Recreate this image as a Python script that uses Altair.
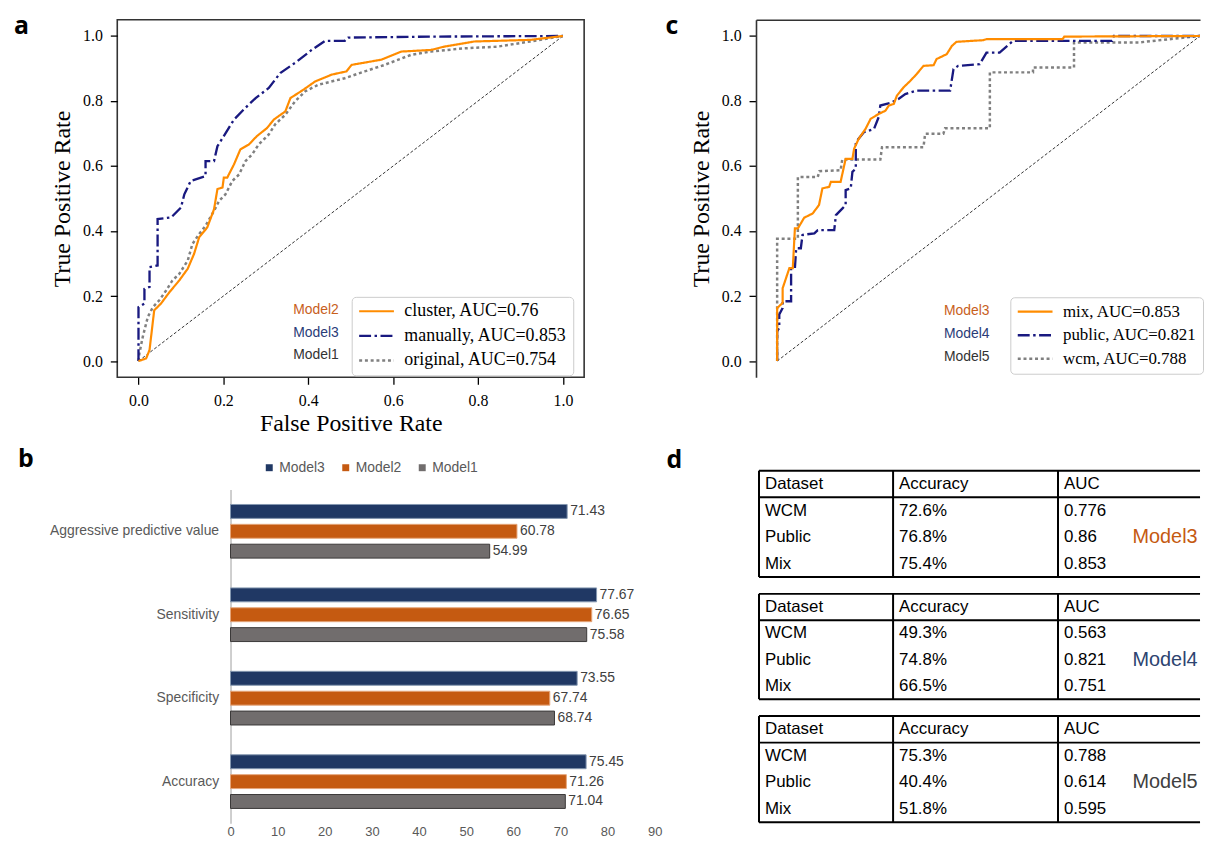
import altair as alt
import pandas as pd

SERIF = "Liberation Serif"
SANS = "Liberation Sans"
BOLD = "Open Sans"

# ---------------- panel a : ROC curves ----------------
a_names = ["cluster, AUC=0.76", "manually, AUC=0.853", "original, AUC=0.754"]
a_models = ["Model2", "Model3", "Model1"]
a_cluster_x = [0, 0.018, 0.026, 0.037, 0.053, 0.073, 0.096, 0.116, 0.131, 0.143, 0.162, 0.178,
               0.186, 0.198, 0.201, 0.209, 0.225, 0.240, 0.260, 0.279, 0.303, 0.319, 0.346, 0.358,
               0.389, 0.416, 0.455, 0.490, 0.502, 0.572, 0.619, 0.689, 0.720, 0.791, 0.923, 1.0]
a_cluster_y = [0, 0.008, 0.034, 0.156, 0.177, 0.212, 0.248, 0.284, 0.330, 0.381, 0.411, 0.467,
               0.529, 0.534, 0.564, 0.564, 0.605, 0.651, 0.666, 0.692, 0.717, 0.743, 0.768, 0.809,
               0.835, 0.860, 0.881, 0.891, 0.911, 0.927, 0.952, 0.957, 0.967, 0.983, 0.988, 1.0]
a_manual_x = [0, 0, 0.014, 0.014, 0.026, 0.026, 0.045, 0.045, 0.077, 0.10, 0.108, 0.123, 0.158,
              0.158, 0.178, 0.186, 0.201, 0.225, 0.252, 0.276, 0.307, 0.334, 0.373, 0.408, 0.44,
              0.486, 0.494, 0.69, 1.0]
a_manual_y = [0, 0.166, 0.177, 0.222, 0.228, 0.289, 0.294, 0.437, 0.442, 0.472, 0.513, 0.554, 0.569,
              0.615, 0.615, 0.661, 0.692, 0.743, 0.779, 0.809, 0.840, 0.886, 0.921, 0.957, 0.985,
              0.985, 0.995, 0.998, 1.0]
a_orig_x = [0, 0.002, 0.010, 0.022, 0.034, 0.049, 0.065, 0.080, 0.096, 0.116, 0.127, 0.143, 0.158,
            0.178, 0.190, 0.205, 0.221, 0.237, 0.252, 0.268, 0.283, 0.307, 0.322, 0.346, 0.369,
            0.393, 0.424, 0.486, 0.533, 0.580, 0.642, 0.689, 0.767, 0.845, 0.923, 1.0]
a_orig_y = [0, 0.023, 0.074, 0.136, 0.166, 0.187, 0.217, 0.248, 0.268, 0.309, 0.360, 0.391, 0.416,
            0.462, 0.493, 0.513, 0.554, 0.574, 0.615, 0.636, 0.666, 0.697, 0.728, 0.758, 0.799,
            0.830, 0.850, 0.870, 0.891, 0.911, 0.942, 0.952, 0.962, 0.967, 0.983, 1.0]

# ---------------- panel c : ROC curves ----------------
c_names = ["mix, AUC=0.853", "public, AUC=0.821", "wcm, AUC=0.788"]
c_models = ["Model3", "Model4", "Model5"]
c_mix_x = [0, 0, 0.013, 0.013, 0.021, 0.029, 0.037, 0.042, 0.049, 0.064, 0.084, 0.099, 0.107,
           0.123, 0.127, 0.150, 0.162, 0.178, 0.182, 0.193, 0.209, 0.221, 0.240, 0.256, 0.264,
           0.276, 0.283, 0.299, 0.315, 0.330, 0.346, 0.370, 0.377, 0.401, 0.413, 0.424, 0.487,
           0.495, 0.675, 0.679, 1.0]
c_mix_y = [0, 0.163, 0.179, 0.224, 0.255, 0.286, 0.286, 0.408, 0.408, 0.441, 0.454, 0.480, 0.531,
           0.536, 0.551, 0.551, 0.622, 0.622, 0.653, 0.684, 0.714, 0.745, 0.760, 0.770, 0.786,
           0.791, 0.816, 0.842, 0.862, 0.883, 0.908, 0.910, 0.929, 0.944, 0.969, 0.982, 0.987,
           0.990, 0.990, 0.998, 1.0]
c_public_x = [0, 0, 0.005, 0.005, 0.013, 0.013, 0.033, 0.033, 0.042, 0.045, 0.056, 0.060, 0.088,
              0.096, 0.135, 0.139, 0.154, 0.162, 0.162, 0.174, 0.178, 0.186, 0.186, 0.205, 0.229,
              0.240, 0.244, 0.268, 0.287, 0.303, 0.330, 0.409, 0.417, 0.428, 0.479, 0.495, 0.526,
              0.558, 0.792, 0.796, 1.0]
c_public_y = [0, 0.092, 0.102, 0.143, 0.163, 0.184, 0.184, 0.286, 0.286, 0.347, 0.347, 0.388, 0.393,
              0.403, 0.403, 0.449, 0.469, 0.480, 0.526, 0.531, 0.582, 0.592, 0.673, 0.704, 0.714,
              0.750, 0.786, 0.794, 0.806, 0.821, 0.832, 0.832, 0.898, 0.908, 0.913, 0.949, 0.949,
              0.985, 0.985, 1.0, 1.0]
c_wcm_x = [0, 0, 0.049, 0.049, 0.096, 0.100, 0.150, 0.154, 0.244, 0.248, 0.346, 0.350, 0.393,
           0.397, 0.503, 0.503, 0.605, 0.605, 0.702, 0.702, 0.855, 1.0]
c_wcm_y = [0, 0.376, 0.376, 0.566, 0.566, 0.584, 0.587, 0.620, 0.620, 0.658, 0.658, 0.699, 0.699,
           0.716, 0.716, 0.888, 0.888, 0.903, 0.903, 0.980, 0.980, 1.0]

diag_x = [0, 1]
diag_y = [0, 1]

# ---------------- panel b : bar chart ----------------
b_metrics = ["Aggressive predictive value", "Sensitivity", "Specificity", "Accuracy"]
b_models = ["Model3", "Model2", "Model1"]
b_model3 = [71.43, 77.67, 73.55, 75.45]
b_model2 = [60.78, 76.65, 67.74, 71.26]
b_model1 = [54.99, 75.58, 68.74, 71.04]
b_ticks = [0, 10, 20, 30, 40, 50, 60, 70, 80, 90]

# ---------------- panel d : tables ----------------
d_header = ["Dataset", "Accuracy", "AUC"]
d_datasets = ["WCM", "Public", "Mix"]
d_models = ["Model3", "Model4", "Model5"]
d_acc_m3 = ["72.6%", "76.8%", "75.4%"]
d_auc_m3 = ["0.776", "0.86", "0.853"]
d_acc_m4 = ["49.3%", "74.8%", "66.5%"]
d_auc_m4 = ["0.563", "0.821", "0.751"]
d_acc_m5 = ["75.3%", "40.4%", "51.8%"]
d_auc_m5 = ["0.788", "0.614", "0.595"]

# ---------------- styles ----------------
LINE_COLORS = ["#ff8c00", "#191980", "#808080"]
LINE_DASH = [[1, 0], [12, 3.5, 2.5, 3.5], [3, 2.8]]
LINE_WIDTH = [2.2, 2.5, 2.8]
A_MODEL_COLORS = ["#c8601c", "#2a3c78", "#333333"]
C_MODEL_COLORS = ["#c8601c", "#2a3c78", "#333333"]
B_COLORS = ["#203864", "#c55a11", "#716d6d"]
B_STROKES = ["#8497b0", "#e5a57a", "#3a3838"]
D_MODEL_COLORS = ["#c55a11", "#2d4470", "#404040"]
NOFRAME = alt.ViewBackground(stroke="transparent")
INDEP = dict(color="independent", strokeDash="independent", strokeWidth="independent",
             stroke="independent")


def letter_layer(letter, x, y):
    return alt.Chart(pd.DataFrame({"t": [letter]})).mark_text(
        align="left", baseline="alphabetic", font=BOLD, fontSize=25,
        fontWeight="bold", color="black"
    ).encode(x=alt.value(x), y=alt.value(y), text="t:N")


def roc_panel(names, models, model_colors, xs, ys, letter, letter_xy, xdomain, width,
              framed, legend_xy, ann_x, ann_ys, legend_font):
    rows = []
    for k in [2, 1, 0]:
        for i, (x, y) in enumerate(zip(xs[k], ys[k])):
            rows.append({"series": names[k], "fpr": x, "tpr": y, "i": i})
    df = pd.DataFrame(rows)
    xsc = alt.Scale(domain=xdomain, nice=False, zero=False)
    ysc = alt.Scale(domain=[-0.05, 1.05], nice=False, zero=False)
    ticks = [0.0, 0.2, 0.4, 0.6, 0.8, 1.0]
    common = dict(values=ticks, format=".1f", grid=False,
                  labelFont=SERIF, labelFontSize=16, labelColor="black",
                  tickColor="black", tickWidth=1.3, tickSize=7,
                  titleFont=SERIF, titleFontSize=24, titleFontWeight="normal",
                  titleColor="black", domain=not framed, domainColor="#333333",
                  domainWidth=1.6)
    xaxis = alt.Axis(title="False Positive Rate", labelPadding=8, titlePadding=4,
                     labelFlush=True, **common)
    yaxis = alt.Axis(title="True Positive Rate", labelPadding=8, titlePadding=8, **common)
    legend = alt.Legend(title=None, orient="none", legendX=legend_xy[0], legendY=legend_xy[1],
                        symbolType="stroke", symbolSize=1225, symbolStrokeWidth=2,
                        clipHeight=17, rowPadding=5.75, labelFont=SERIF,
                        labelFontSize=legend_font, labelColor="black", labelOffset=9,
                        padding=6, labelLimit=400, strokeColor="#cccccc",
                        fillColor="rgba(255,255,255,0.85)", cornerRadius=4)
    dd = pd.DataFrame({"fpr": diag_x, "tpr": diag_y})
    diag = alt.Chart(dd).mark_line(color="black", strokeWidth=0.8, strokeDash=[3, 2],
                                   clip=True).encode(
        x=alt.X("fpr:Q", scale=xsc, axis=xaxis),
        y=alt.Y("tpr:Q", scale=ysc, axis=yaxis))
    lines = alt.Chart(df).mark_line(clip=True).encode(
        x=alt.X("fpr:Q", scale=xsc, axis=xaxis),
        y=alt.Y("tpr:Q", scale=ysc, axis=yaxis),
        color=alt.Color("series:N", scale=alt.Scale(domain=names, range=LINE_COLORS),
                        legend=legend),
        strokeDash=alt.StrokeDash("series:N", scale=alt.Scale(domain=names, range=LINE_DASH),
                                  legend=legend),
        strokeWidth=alt.StrokeWidth("series:N",
                                    scale=alt.Scale(domain=names, range=LINE_WIDTH),
                                    legend=None),
        order="i:Q",
    )
    layers = [diag, lines]
    for m, col, yy in zip(models, model_colors, ann_ys):
        layers.append(alt.Chart(pd.DataFrame({"m": [m]})).mark_text(
            align="right", baseline="middle", font=SANS, fontSize=14, color=col
        ).encode(x=alt.value(ann_x), y=alt.value(yy), text="m:N"))
    layers.append(letter_layer(letter, letter_xy[0], letter_xy[1]))
    if not framed:
        topax = alt.Chart(dd).mark_line(opacity=0).encode(
            x=alt.X("fpr:Q", scale=xsc,
                    axis=alt.Axis(orient="top", labels=False, ticks=False, title=None,
                                  grid=False, domain=True, domainColor="#333333",
                                  domainWidth=1.6)),
            y=alt.Y("tpr:Q", scale=ysc, axis=yaxis))
        layers.append(topax)
    ch = alt.layer(*layers).properties(width=width, height=360)
    if not framed:
        ch = ch.properties(view=NOFRAME)
    return ch


panel_a = roc_panel(a_names, a_models, A_MODEL_COLORS,
                    [a_cluster_x, a_manual_x, a_orig_x], [a_cluster_y, a_manual_y, a_orig_y],
                    "a", (-104, 14), [-0.05, 1.05], 470, True, (236, 279), 223,
                    [292, 315, 337.5], 18)
panel_c = roc_panel(c_names, c_models, C_MODEL_COLORS,
                    [c_mix_x, c_public_x, c_wcm_x], [c_mix_y, c_public_y, c_wcm_y],
                    "c", (-91, 14), [-0.05, 1.0], 447, False, (256, 279.4), 235,
                    [293.4, 316.4, 339.4], 17)

# ---------------- panel b ----------------
# The view of panel b starts where panel a's frame starts (concat aligns the first
# column), so the bar area is placed inside it through the scale ranges.
b_rows = []
for m, vals in zip(b_models, [b_model3, b_model2, b_model1]):
    for metric, v in zip(b_metrics, vals):
        b_rows.append({"metric": metric, "model": m, "value": v})
bdf = pd.DataFrame(b_rows)
ysc_b = alt.Scale(domain=b_metrics, range=[19, 355], paddingInner=0, paddingOuter=0)
yoff_b = alt.Scale(domain=b_models, paddingInner=0.3, paddingOuter=0.75)
xsc_b = alt.Scale(domain=[0, 90], range=[114, 541], nice=False, zero=True)
yaxis_b = alt.Axis(title=None, ticks=False, tickSize=0, labelPadding=12, labelFont=SANS,
                   labelFontSize=14, labelColor="#595959", domainColor="#bfbfbf",
                   domainWidth=1.5, labelLimit=400, grid=False, offset=-114)
xaxis_b = alt.Axis(values=b_ticks, title=None, domain=False, ticks=False, tickSize=0,
                   grid=False, labelFont=SANS, labelFontSize=13, labelColor="#595959",
                   labelPadding=2, labelFlush=False)
bars = alt.Chart(bdf).mark_bar(strokeWidth=1).encode(
    y=alt.Y("metric:N", sort=b_metrics, scale=ysc_b, axis=yaxis_b),
    yOffset=alt.YOffset("model:N", sort=b_models, scale=yoff_b),
    x=alt.X("value:Q", scale=xsc_b, axis=xaxis_b),
    color=alt.Color("model:N", sort=b_models,
                    scale=alt.Scale(domain=b_models, range=B_COLORS),
                    legend=alt.Legend(title=None, orient="none", legendX=146, legendY=-10,
                                      direction="horizontal", symbolType="square",
                                      symbolSize=49, symbolStrokeWidth=0, labelOffset=3,
                                      columnPadding=14, labelFont=SANS, labelFontSize=14,
                                      labelColor="#595959", padding=0)),
    stroke=alt.Stroke("model:N", scale=alt.Scale(domain=b_models, range=B_STROKES),
                      legend=None),
)
btxt = alt.Chart(bdf).mark_text(align="left", baseline="middle", dx=3, font=SANS,
                                fontSize=14, color="#404040").encode(
    y=alt.Y("metric:N", sort=b_metrics, scale=ysc_b, axis=yaxis_b),
    yOffset=alt.YOffset("model:N", sort=b_models, scale=yoff_b),
    x=alt.X("value:Q", scale=xsc_b, axis=xaxis_b),
    text=alt.Text("value:Q", format=".2f"),
)
panel_b = alt.layer(bars, btxt, letter_layer("b", -100, -4)).properties(
    width=541, height=355, view=NOFRAME)


# ---------------- panel d ----------------
def table_chart(acc, auc, model, mcolor, height, letter=None):
    rows = [{"row": "header", "ci": i, "txt": h} for i, h in enumerate(d_header)]
    for ds, a, u in zip(d_datasets, acc, auc):
        rows += [{"row": ds, "ci": 0, "txt": ds}, {"row": ds, "ci": 1, "txt": a},
                 {"row": ds, "ci": 2, "txt": u}]
    tdf = pd.DataFrame(rows)
    row_dom = ["header"] + d_datasets
    xsc = alt.Scale(domain=[0, 1, 2], range=[0, 135, 301], nice=False, zero=False)
    ysc = alt.Scale(type="band", domain=row_dom, paddingInner=0, paddingOuter=0)
    txt = alt.Chart(tdf).mark_text(align="left", baseline="middle", dx=6, font=SANS,
                                   fontSize=17, color="black").encode(
        x=alt.X("ci:Q", scale=xsc, axis=None),
        y=alt.Y("row:N", scale=ysc, axis=None),
        text="txt:N")
    vlines = alt.Chart(pd.DataFrame({"ci": [0, 1, 2]})).mark_rule(
        color="black", strokeWidth=2).encode(x=alt.X("ci:Q", scale=xsc, axis=None))
    hlines = alt.Chart(pd.DataFrame({"row": ["header", "WCM"]})).mark_rule(
        color="black", strokeWidth=2).encode(
        y=alt.Y("row:N", scale=ysc, axis=None, bandPosition=0))
    bline = alt.Chart(pd.DataFrame({"row": ["Mix"]})).mark_rule(
        color="black", strokeWidth=2).encode(
        y=alt.Y("row:N", scale=ysc, axis=None, bandPosition=1))
    mlab = alt.Chart(pd.DataFrame({"row": ["Public"], "ci": [2], "txt": [model]})).mark_text(
        align="left", baseline="middle", dx=75, font=SANS, fontSize=20, color=mcolor).encode(
        x=alt.X("ci:Q", scale=xsc, axis=None),
        y=alt.Y("row:N", scale=ysc, axis=None),
        text="txt:N")
    layers = [vlines, hlines, bline, txt, mlab]
    if letter:
        layers.append(letter_layer(letter, -93, -3))
    return alt.layer(*layers).properties(width=444, height=height, view=NOFRAME)


t1 = table_chart(d_acc_m3, d_auc_m3, d_models[0], D_MODEL_COLORS[0], 107, "d")
t2 = table_chart(d_acc_m4, d_auc_m4, d_models[1], D_MODEL_COLORS[1], 106)
t3 = table_chart(d_acc_m5, d_auc_m5, d_models[2], D_MODEL_COLORS[2], 107)
panel_d = alt.vconcat(t1, t2, t3, spacing=17, bounds="flush")

top = alt.hconcat(panel_a, panel_c, spacing=80).resolve_scale(
    **INDEP).resolve_legend(color="independent", strokeDash="independent")
bottom = alt.hconcat(panel_b, panel_d, spacing=2).resolve_scale(
    **INDEP).resolve_legend(color="independent")
chart = alt.vconcat(top, bottom, spacing=9).resolve_scale(
    **INDEP).resolve_legend(color="independent", strokeDash="independent").properties(
    padding={"left": 5, "top": 2, "right": 0, "bottom": 0}
).configure(font=SANS).configure_view(stroke="#333333", strokeWidth=1.6)

chart.save("out.html", embed_options={"renderer": "svg", "actions": False})
